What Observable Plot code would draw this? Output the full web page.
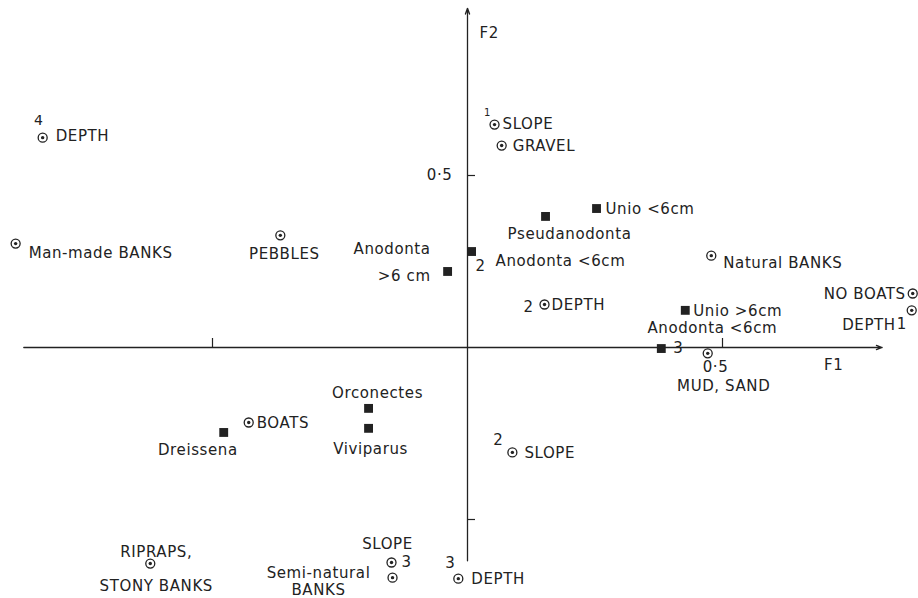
<!DOCTYPE html>
<html>
<head>
<meta charset="utf-8">
<script src="https://cdn.jsdelivr.net/npm/d3@7"></script>
<script src="https://cdn.jsdelivr.net/npm/@observablehq/plot@0.6"></script>
<style>
  html, body { margin: 0; padding: 0; background: #fff; }
  #chart svg { display: block; }
</style>
</head>
<body>
<div id="chart"></div>
<script>
// ---- Data ----
// Environmental variables (concentric-circle markers)
const varNames = ["DEPTH", "Man-made BANKS", "PEBBLES", "SLOPE", "GRAVEL", "DEPTH", "Natural BANKS", "NO BOATS",
                  "DEPTH", "MUD, SAND", "BOATS", "SLOPE", "RIPRAPS,\nSTONY BANKS", "SLOPE", "Semi-natural\nBANKS", "DEPTH"];
const varClasses = ["4", "", "", "1", "", "2", "", "", "1", "", "", "2", "", "3", "", "3"];
const varF1 = [-0.833, -0.886, -0.367, 0.053, 0.067, 0.151, 0.478, 0.873, 0.871, 0.471, -0.429, 0.088, -0.622, -0.149, -0.147, -0.018];
const varF2 = [0.610, 0.302, 0.326, 0.648, 0.587, 0.125, 0.267, 0.157, 0.108, -0.017, -0.218, -0.305, -0.628, -0.625, -0.669, -0.672];

// Species (filled-square markers)
const speciesNames = ["Unio <6cm", "Pseudanodonta", "Anodonta <6cm", "Anodonta\n>6 cm", "Unio >6cm", "Anodonta <6cm",
                      "Orconectes", "Viviparus", "Dreissena"];
const speciesClasses = ["", "", "2", "", "", "3", "", "", ""];
const speciesF1 = [0.253, 0.153, 0.008, -0.039, 0.427, 0.380, -0.194, -0.194, -0.478];
const speciesF2 = [0.404, 0.381, 0.279, 0.221, 0.108, -0.003, -0.177, -0.235, -0.247];

// Axes
const axisNames = ["F1", "F2"];
const f1Extent = [-0.870, 0.813];
const f2Extent = [-0.620, 0.986];
const tickValues = [-0.5, 0.5];
const tickLabels = ["", "0·5"];

// ---- Build rows ----
const vars = varNames.map((name, i) => ({name, cls: varClasses[i], f1: varF1[i], f2: varF2[i]}));
const species = speciesNames.map((name, i) => ({name, cls: speciesClasses[i], f1: speciesF1[i], f2: speciesF2[i]}));

// ---- Label placement (layout only) ----
// [textAnchor, dx, dy, lineHeight]
const varLabelPos = [
  ["start", 13, -2], ["start", 13, 9], ["middle", 4, 18], ["start", 8, -1], ["start", 11, 0],
  ["start", 7, 0], ["start", 12, 7], ["end", -7, 0], ["end", -16, 14], ["middle", 16, 32],
  ["start", 8, 0], ["start", 12, 0], ["middle", 6, 0, 2.27], ["middle", -4, -19], ["middle", -74, 3, 1.15],
  ["start", 13, 0]
];
// [dx, dy, fontSize]
const varClassPos = [
  [-4, -17, 14], null, null, [-7, -12, 10], null, [-16, 3, 15], null, null, [-10, 14, 15], null,
  null, [-14, -12, 15], null, [15, 0, 15], null, [-8, -15, 15]
];
const speciesLabelPos = [
  ["start", 9, 0], ["middle", 24, 17], ["start", 24, 9], ["end", -17, -13, 1.8], ["start", 8, 0],
  ["middle", 51, -21], ["middle", 9, -16], ["middle", 2, 20], ["end", 14, 17]
];
const speciesClassPos = [null, null, [9, 15, 15], null, null, [17, 0, 15], null, null, null];

const ink = "#222";
const font = 15;

function labelMarks(rows, labelPos, classPos) {
  const marks = [];
  rows.forEach((row, i) => {
    const [anchor, dx, dy, lh] = labelPos[i];
    marks.push(Plot.text([row], {
      x: "f1", y: "f2", text: "name", textAnchor: anchor, dx, dy,
      lineHeight: lh || 1.1, fontSize: font, fill: ink
    }));
    const cp = classPos[i];
    if (cp && row.cls) {
      marks.push(Plot.text([row], {
        x: "f1", y: "f2", text: "cls", textAnchor: "middle", dx: cp[0], dy: cp[1],
        fontSize: cp[2], fill: ink
      }));
    }
  });
  return marks;
}

const pxPerUnitX = 510, pxPerUnitY = 344;

const chart = Plot.plot({
  width: 918,
  height: 598,
  margin: 0,
  x: {domain: [-467 / pxPerUnitX, 451 / pxPerUnitX], axis: null},
  y: {domain: [(347 - 598) / pxPerUnitY, 347 / pxPerUnitY], axis: null},
  style: {fontFamily: "'DejaVu Sans', sans-serif", fontSize: "15px", letterSpacing: "0.6px", background: "#fff"},
  marks: [
    // axis lines with arrowheads
    Plot.arrow([{x1: f1Extent[0], y1: 0, x2: f1Extent[1], y2: 0}],
      {x1: "x1", y1: "y1", x2: "x2", y2: "y2", stroke: ink, strokeWidth: 1.3, headLength: 7, headAngle: 40}),
    Plot.arrow([{x1: 0, y1: f2Extent[0], x2: 0, y2: f2Extent[1]}],
      {x1: "x1", y1: "y1", x2: "x2", y2: "y2", stroke: ink, strokeWidth: 1.3, headLength: 7, headAngle: 40}),
    // ticks
    Plot.ruleX(tickValues, {x: d => d, y1: 0, y2: 9 / pxPerUnitY, stroke: ink, strokeWidth: 1.2}),
    Plot.ruleY(tickValues, {y: d => d, x1: 0, x2: 8 / pxPerUnitX, stroke: ink, strokeWidth: 1.2}),
    // tick labels
    Plot.text(tickValues.map((v, i) => ({v, t: tickLabels[i]})),
      {x: "v", y: () => 0, text: "t", dx: -7, dy: 20, fontSize: font, fill: ink}),
    Plot.text(tickValues.map((v, i) => ({v, t: tickLabels[i]})),
      {x: () => 0, y: "v", text: "t", textAnchor: "end", dx: -15, dy: 0, fontSize: font, fill: ink}),
    // axis titles
    Plot.text([axisNames[0]], {x: () => 0.718, y: () => 0, text: d => d, dy: 18, fontSize: font, fill: ink}),
    Plot.text([axisNames[1]], {x: () => 0, y: () => 0.913, text: d => d, textAnchor: "start", dx: 12, fontSize: font, fill: ink}),
    // species markers
    Plot.dot(species, {x: "f1", y: "f2", symbol: "square", r: 5, fill: ink, stroke: "none"}),
    // variable markers (bullseye)
    Plot.dot(vars, {x: "f1", y: "f2", r: 4.5, fill: "#fff", stroke: ink, strokeWidth: 1.3}),
    Plot.dot(vars, {x: "f1", y: "f2", r: 1.7, fill: ink}),
    ...labelMarks(vars, varLabelPos, varClassPos),
    ...labelMarks(species, speciesLabelPos, speciesClassPos)
  ]
});

document.getElementById("chart").appendChild(chart);
</script>
</body>
</html>
